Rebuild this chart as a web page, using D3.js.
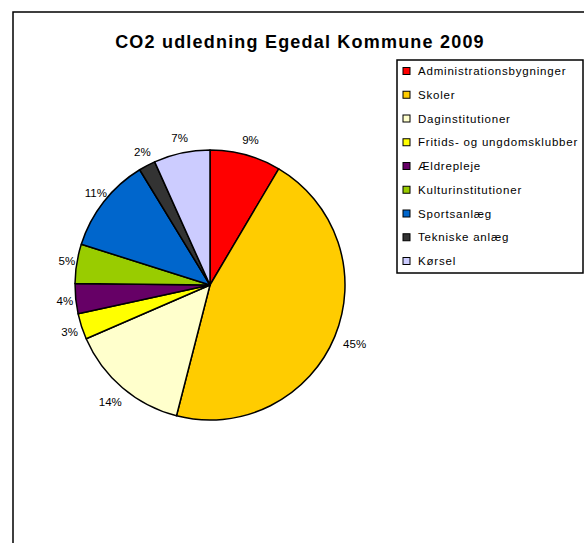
<!DOCTYPE html>
<html>
<head>
<meta charset="utf-8">
<script src="https://cdn.jsdelivr.net/npm/d3@7"></script>
<style>
  body { margin: 0; background: #fff; }
  text { font-family: "Liberation Sans", Arial, sans-serif; fill: #000; }
</style>
</head>
<body>
<div id="chart"></div>
<script>
// data
var categories = ["Administrationsbygninger", "Skoler", "Daginstitutioner", "Fritids- og ungdomsklubber",
  "Ældrepleje", "Kulturinstitutioner", "Sportsanlæg", "Tekniske anlæg", "Kørsel"]
var shares = [8.5, 45.49, 14.49, 3.1, 3.6, 4.7, 11.4, 2.0, 6.72]
var colours = ["#FF0000", "#FFCC00", "#FFFFCC", "#FFFF00", "#660066", "#99CC00", "#0066CC", "#333333", "#CCCCFF"]

var width = 584, height = 543
var cx = 210, cy = 285, radius = 135

var svg = d3.select("#chart").append("svg")
    .attr("width", width)
    .attr("height", height)

// outer chart frame (runs off the right and bottom)
svg.append("rect")
    .attr("x", 13).attr("y", 12)
    .attr("width", 620).attr("height", 600)
    .attr("fill", "#fff")
    .attr("stroke", "#000")
    .attr("stroke-width", 1.5)

svg.append("text")
    .attr("x", 300).attr("y", 48)
    .attr("text-anchor", "middle")
    .style("font-size", "18px")
    .style("font-weight", "bold")
    .style("letter-spacing", "1.2px")
    .text("CO2 udledning Egedal Kommune 2009")

var pie = d3.pie().sort(null).value(function(d) { return d; })
var arcs = pie(shares)
var arc = d3.arc().innerRadius(0).outerRadius(radius)
var total = d3.sum(shares)

var g = svg.append("g").attr("transform", "translate(" + cx + "," + cy + ")")

g.selectAll("path")
    .data(arcs)
    .enter()
    .append("path")
    .attr("d", arc)
    .attr("fill", function(d, i) { return colours[i]; })
    .attr("stroke", "#000")
    .attr("stroke-width", 1.5)
    .attr("stroke-linejoin", "round")

// percentage labels just outside the rim
var labels = g.selectAll(".lbl")
    .data(arcs)
    .enter()
    .append("text")
    .attr("class", "lbl")
    .style("font-size", "11.5px")
    .attr("text-anchor", "middle")
    .attr("dy", "0.35em")
    .text(function(d) { return Math.round(d.value / total * 100) + "%"; })

labels.each(function(d) {
  var a = (d.startAngle + d.endAngle) / 2
  var s = Math.sin(a), c = Math.cos(a)
  var w = this.getComputedTextLength()
  var r = radius + 10
  // right side pushes out by half the text width, left side only on the lower part
  var hx = s > 0 ? s * w / 2 : s * w / 2 * Math.max(0, -c)
  var x = r * s + hx
  var y = -r * c - c * (c < 0 ? 9 : 5)
  d3.select(this).attr("x", x).attr("y", y)
})

// legend
var lx = 397, ly = 60, step = 23.75
var legend = svg.append("g")

legend.append("rect")
    .attr("x", lx).attr("y", ly)
    .attr("width", 186).attr("height", 213)
    .attr("fill", "#fff")
    .attr("stroke", "#000")
    .attr("stroke-width", 1.5)

var item = legend.selectAll(".item")
    .data(categories)
    .enter()
    .append("g")
    .attr("class", "item")
    .attr("transform", function(d, i) { return "translate(" + (lx + 6) + "," + (ly + 11 + i * step) + ")"; })

item.append("rect")
    .attr("x", 0).attr("y", -3.5)
    .attr("width", 7).attr("height", 7)
    .attr("fill", function(d, i) { return colours[i]; })
    .attr("stroke", "#000")
    .attr("stroke-width", 1)

item.append("text")
    .attr("x", 15)
    .attr("dy", "0.35em")
    .style("font-size", "11.5px")
    .style("letter-spacing", "0.8px")
    .text(function(d) { return d; })
</script>
</body>
</html>
